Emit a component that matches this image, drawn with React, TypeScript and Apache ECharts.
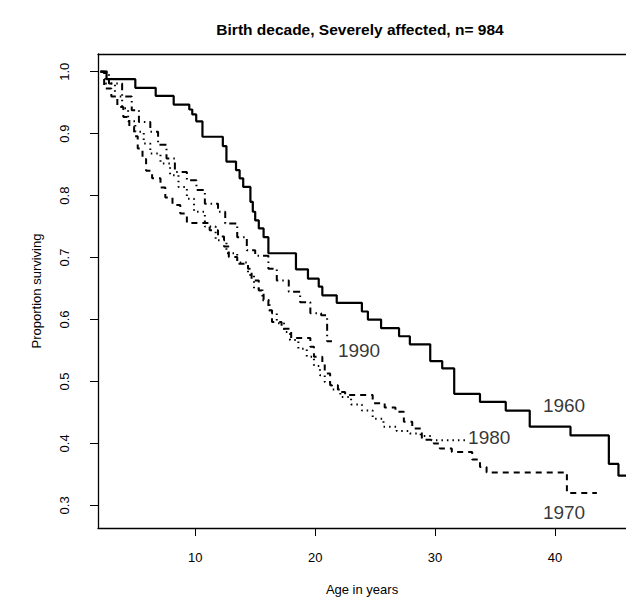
import React, { useEffect, useRef } from "react";
import * as echarts from "echarts";

const decades = ["1960", "1970", "1980", "1990"];

const surv1960: [number, number][] = [
  [2.1, 1.0], [2.6, 0.988], [5.0, 0.974], [6.7, 0.961], [8.2, 0.947], [9.5, 0.939],
  [9.75, 0.931], [10.08, 0.92], [10.6, 0.895], [12.3, 0.88], [12.6, 0.855], [13.4, 0.841],
  [13.7, 0.828], [14.0, 0.814], [14.6, 0.79], [14.8, 0.774], [15.0, 0.76], [15.3, 0.747],
  [15.7, 0.733], [16.1, 0.707], [18.4, 0.681], [19.4, 0.666], [20.3, 0.653], [20.6, 0.639],
  [21.8, 0.627], [23.9, 0.613], [24.4, 0.6], [25.5, 0.586], [27.0, 0.573], [27.9, 0.56],
  [29.6, 0.533], [30.6, 0.521], [31.6, 0.48], [33.75, 0.467], [35.9, 0.453], [37.9, 0.427],
  [41.3, 0.413], [44.5, 0.367], [45.3, 0.348], [46.3, 0.348],
];

const surv1970: [number, number][] = [
  [2.1, 1.0], [2.4, 0.973], [3.0, 0.96], [3.5, 0.943], [4.0, 0.927], [4.5, 0.911],
  [4.9, 0.896], [5.2, 0.876], [5.6, 0.859], [5.9, 0.84], [6.4, 0.828], [7.1, 0.813],
  [7.5, 0.797], [8.1, 0.785], [8.75, 0.771], [9.3, 0.756], [11.2, 0.744], [11.9, 0.734],
  [12.4, 0.718], [12.8, 0.701], [13.5, 0.69], [14.4, 0.682], [14.7, 0.663], [15.3, 0.647],
  [15.7, 0.631], [16.1, 0.615], [16.4, 0.596], [17.2, 0.585], [18.0, 0.57], [19.6, 0.556],
  [19.9, 0.54], [20.6, 0.529], [20.8, 0.513], [21.25, 0.494], [21.9, 0.483], [22.5, 0.478],
  [24.8, 0.465], [25.8, 0.458], [26.7, 0.451], [27.4, 0.435], [28.1, 0.424], [28.9, 0.406],
  [29.9, 0.4], [30.4, 0.392], [31.4, 0.386], [33.1, 0.374], [33.75, 0.362], [34.3, 0.353],
  [41.0, 0.32], [43.5, 0.32],
];

const surv1980: [number, number][] = [
  [2.1, 1.0], [2.5, 0.981], [3.3, 0.96], [3.9, 0.941], [4.4, 0.92], [5.0, 0.903],
  [5.7, 0.884], [6.25, 0.868], [7.1, 0.852], [7.9, 0.833], [8.6, 0.814], [9.3, 0.795],
  [9.9, 0.774], [10.8, 0.75], [11.7, 0.728], [12.6, 0.707], [13.5, 0.692], [14.4, 0.672],
  [14.9, 0.65], [15.6, 0.631], [16.2, 0.61], [16.8, 0.594], [17.4, 0.58], [17.9, 0.567],
  [18.6, 0.553], [19.3, 0.54], [19.9, 0.525], [20.4, 0.51], [20.8, 0.499], [21.4, 0.487],
  [22.1, 0.475], [23.0, 0.463], [23.9, 0.453], [24.8, 0.44], [25.7, 0.427], [26.8, 0.42],
  [27.9, 0.416], [28.8, 0.412], [29.7, 0.405], [32.6, 0.405],
];

const surv1990: [number, number][] = [
  [2.1, 1.0], [2.8, 0.981], [3.9, 0.96], [4.7, 0.938], [5.3, 0.919], [6.25, 0.903],
  [6.9, 0.882], [7.6, 0.86], [8.3, 0.838], [9.3, 0.825], [10.1, 0.809], [10.8, 0.787],
  [11.9, 0.774], [12.5, 0.755], [13.5, 0.733], [14.3, 0.712], [15.0, 0.703], [16.1, 0.682],
  [16.8, 0.663], [17.8, 0.645], [18.75, 0.628], [19.6, 0.61], [20.5, 0.607], [21.0, 0.565],
  [21.4, 0.565],
];

const labelAnchors: [number, number][] = [
  [39.0, 0.461], [39.0, 0.288], [32.76, 0.409], [21.9, 0.55],
];

const xTicks = [10, 20, 30, 40];
const yTicks = [0.3, 0.4, 0.5, 0.6, 0.7, 0.8, 0.9, 1.0];

const FONT = "'Liberation Sans', Arial, Helvetica, sans-serif";

export default function App() {
  const ref = useRef<HTMLDivElement>(null);
  useEffect(() => {
    if (!ref.current) return;
    const chart = echarts.init(ref.current, undefined, { renderer: "svg" });
    const xMin = 1.887;
    const xMax = 45.93;
    const yMin = 0.2635;
    const yMax = 1.0286;
    const curves = [surv1960, surv1970, surv1980, surv1990];
    const dashTypes: any[] = ["solid", [6, 5], [1.5, 4], [7, 4, 1.5, 4]];
    const lineSeries = curves.map((d, i) => ({
      type: "line",
      name: decades[i],
      data: d,
      step: "end",
      symbol: "none",
      silent: true,
      lineStyle: { color: "#000", width: i === 0 ? 2.2 : 2, type: dashTypes[i] },
    }));
    const labelSeries = {
      type: "scatter",
      data: labelAnchors.map((p, i) => ({ value: p, name: decades[i] })),
      symbol: "circle",
      symbolSize: 0,
      itemStyle: { color: "rgba(0,0,0,0)" },
      silent: true,
      z: 10,
      label: {
        show: true,
        position: "right",
        distance: 0,
        formatter: (p: any) => p.name,
        color: "#000",
        fontSize: 19,
        fontFamily: FONT,
      },
    };
    chart.setOption({
      animation: false,
      backgroundColor: "#fff",
      textStyle: { fontFamily: FONT },
      graphic: [
        {
          type: "text",
          x: 360,
          y: 29,
          style: {
            text: "Birth decade, Severely affected, n= 984",
            fill: "#000",
            font: `bold 15.5px ${FONT}`,
            textAlign: "center",
            textVerticalAlign: "middle",
          },
        },
      ],
      grid: { left: 98, top: 54, bottom: 76, width: 532, containLabel: false },
      xAxis: [
        {
          type: "value",
          min: xMin,
          max: xMax,
          name: "Age in years",
          nameLocation: "middle",
          nameGap: 55,
          nameTextStyle: { color: "#000", fontSize: 13, fontFamily: FONT },
          axisLine: { show: true, lineStyle: { color: "#000", width: 1.3 } },
          axisTick: { show: true, customValues: xTicks, length: 8, lineStyle: { color: "#000" } },
          axisLabel: {
            customValues: xTicks,
            margin: 23,
            color: "#000",
            fontSize: 13,
            fontFamily: FONT,
          },
          splitLine: { show: false },
        },
        {
          type: "value",
          position: "top",
          min: xMin,
          max: xMax,
          axisLine: { show: true, onZero: false, lineStyle: { color: "#000", width: 1.3 } },
          axisTick: { show: false },
          axisLabel: { show: false },
          splitLine: { show: false },
        },
      ],
      yAxis: {
        type: "value",
        min: yMin,
        max: yMax,
        name: "Proportion surviving",
        nameLocation: "middle",
        nameGap: 55,
        nameTextStyle: { color: "#000", fontSize: 13, fontFamily: FONT },
        axisLine: { show: true, onZero: false, lineStyle: { color: "#000", width: 1.3 } },
        axisTick: { show: true, customValues: yTicks, length: 8, lineStyle: { color: "#000" } },
        axisLabel: {
          customValues: yTicks,
          rotate: 90,
          margin: 27,
          align: "center",
          verticalAlign: "bottom",
          color: "#000",
          fontSize: 13,
          fontFamily: FONT,
          formatter: (v: number) => v.toFixed(1),
        },
        splitLine: { show: false },
      },
      series: [...lineSeries, labelSeries],
    });
    return () => chart.dispose();
  }, []);
  return (
    <div
      ref={ref}
      style={{ position: "absolute", left: 0, top: 0, width: 626, height: 604, background: "#fff" }}
    />
  );
}
